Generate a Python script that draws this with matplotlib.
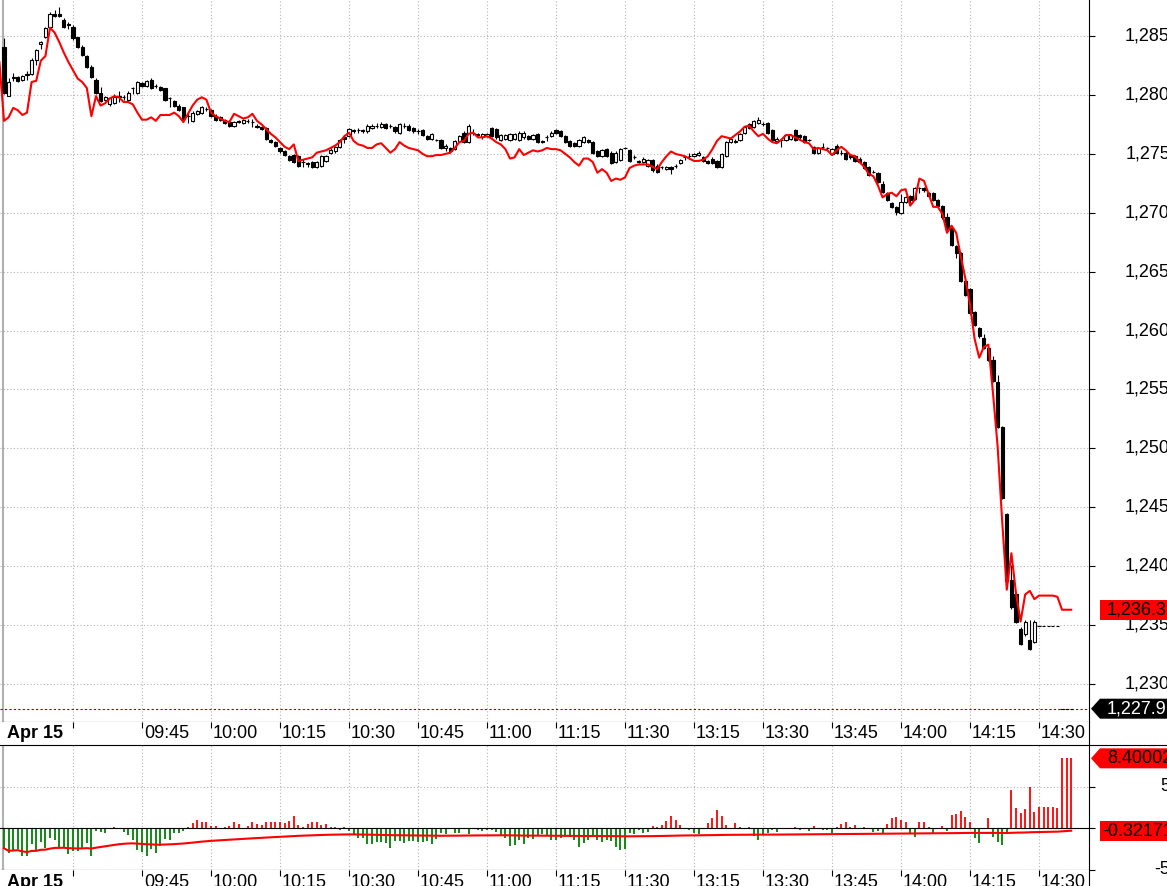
import numpy as np
import matplotlib.pyplot as plt
from matplotlib.lines import Line2D
from matplotlib.patches import Polygon
from matplotlib.transforms import IdentityTransform, blended_transform_factory

plt.rcParams['font.family'] = ['Liberation Sans', 'DejaVu Sans']
plt.rcParams['axes.unicode_minus'] = False

# ====================== data: 1-minute bars, Apr 15 ======================
opens = [
    1284.1, 1279.9, 1281.4, 1281.5, 1281.3, 1281.7, 1281.8, 1283.0, 1284.3, 1284.9,
    1285.8, 1286.9, 1286.9, 1286.4, 1286.0, 1285.8, 1284.9, 1284.1, 1283.3, 1282.4,
    1281.3, 1280.2, 1279.6, 1279.2, 1279.3, 1279.8, 1279.8, 1279.6, 1280.6, 1280.2,
    1281.0, 1280.8, 1281.3, 1280.8, 1280.7, 1280.6, 1279.7, 1279.5, 1279.1, 1279.0,
    1278.2, 1277.8, 1278.4, 1278.5, 1278.8, 1278.7, 1278.2, 1278.1, 1277.9, 1277.7,
    1277.4, 1277.8, 1277.6, 1277.8, 1277.7, 1277.4, 1277.3, 1277.2, 1276.2, 1276.0,
    1275.5, 1275.2, 1274.8, 1274.9, 1274.8, 1274.3, 1274.2, 1274.3, 1273.9, 1274.0,
    1274.4, 1275.1, 1275.2, 1275.6, 1276.4, 1276.5, 1277.0, 1277.0, 1277.0, 1276.9,
    1277.2, 1277.4, 1277.3, 1277.5, 1277.4, 1277.3, 1276.8, 1277.4, 1277.4, 1277.2,
    1276.9, 1277.0, 1276.5, 1276.3, 1276.2, 1276.2, 1275.5, 1275.5, 1275.4, 1276.1,
    1276.8, 1276.0, 1276.8, 1276.7, 1276.4, 1276.5, 1277.2, 1277.1, 1276.2, 1276.3,
    1276.2, 1276.3, 1276.2, 1276.4, 1276.5, 1276.3, 1276.7, 1276.1, 1276.4, 1276.5,
    1277.0, 1276.9, 1276.5, 1276.1, 1275.9, 1275.7, 1276.0, 1276.2, 1276.0, 1275.2,
    1274.8, 1275.4, 1275.1, 1274.3, 1274.5, 1275.5, 1275.3, 1274.7, 1274.4, 1274.3,
    1274.0, 1274.5, 1274.0, 1273.9, 1273.7, 1273.9, 1274.0, 1274.2, 1274.7, 1274.8,
    1274.8, 1274.9, 1274.7, 1274.4, 1274.6, 1274.4, 1273.9, 1274.8, 1276.0, 1276.1,
    1276.2, 1276.8, 1277.5, 1277.3, 1277.6, 1277.5, 1277.6, 1277.0, 1276.1, 1276.2,
    1276.2, 1276.3, 1277.0, 1276.6, 1276.5, 1276.2, 1275.6, 1275.1, 1275.6, 1275.5,
    1275.0, 1275.7, 1275.1, 1275.1, 1274.9, 1274.8, 1274.6, 1274.3, 1273.9, 1273.5,
    1273.4, 1272.4, 1271.7, 1270.8, 1270.5, 1270.0, 1270.9, 1271.4, 1271.2, 1272.1,
    1272.1, 1271.7, 1271.7, 1271.1, 1270.6, 1269.6, 1268.7, 1267.2, 1266.6, 1264.2,
    1263.5, 1261.6, 1260.2, 1259.4, 1258.5, 1257.5, 1255.6, 1251.8, 1244.4, 1238.8,
    1237.6, 1234.7, 1234.2, 1233.7, 1233.6, 1234.9, 1234.9, 1234.9, 1234.9, 1234.9,
    1227.9, 1227.9, 1227.9,
]
highs = [
    1284.8, 1281.4, 1281.9, 1281.6, 1281.7, 1282.0, 1283.1, 1283.9, 1284.6, 1285.8,
    1287.0, 1287.2, 1287.5, 1286.5, 1286.2, 1285.9, 1284.9, 1284.2, 1283.4, 1282.5,
    1281.4, 1280.7, 1279.9, 1279.8, 1280.1, 1280.3, 1280.0, 1280.3, 1280.7, 1281.2,
    1281.1, 1281.3, 1281.4, 1280.9, 1280.8, 1280.6, 1279.8, 1279.6, 1279.2, 1279.0,
    1278.5, 1278.6, 1278.7, 1279.1, 1279.0, 1278.8, 1278.4, 1278.2, 1278.0, 1277.8,
    1277.8, 1277.9, 1278.0, 1278.0, 1278.0, 1277.5, 1277.4, 1277.3, 1276.3, 1276.1,
    1275.6, 1275.3, 1274.9, 1275.0, 1274.9, 1274.6, 1274.3, 1274.4, 1274.4, 1274.9,
    1274.9, 1275.5, 1275.7, 1276.3, 1276.6, 1277.2, 1277.1, 1277.2, 1277.1, 1277.5,
    1277.5, 1277.6, 1277.7, 1277.6, 1277.5, 1277.4, 1277.6, 1277.6, 1277.5, 1277.3,
    1277.1, 1277.1, 1276.6, 1276.8, 1276.3, 1276.3, 1275.8, 1275.6, 1276.2, 1276.6,
    1276.9, 1277.5, 1277.1, 1276.8, 1276.8, 1276.8, 1277.3, 1277.2, 1276.7, 1276.7,
    1276.8, 1276.8, 1276.9, 1276.9, 1276.6, 1276.7, 1276.8, 1276.2, 1276.6, 1276.9,
    1277.1, 1277.0, 1276.6, 1276.2, 1276.0, 1276.3, 1276.5, 1276.3, 1276.1, 1275.3,
    1275.4, 1275.5, 1275.2, 1275.2, 1275.5, 1275.6, 1275.4, 1274.9, 1274.5, 1274.7,
    1274.6, 1274.6, 1274.1, 1274.0, 1274.0, 1274.0, 1274.1, 1274.6, 1274.8, 1275.1,
    1275.1, 1275.2, 1274.8, 1274.5, 1274.7, 1274.5, 1275.1, 1276.1, 1276.4, 1276.3,
    1276.8, 1277.4, 1277.6, 1277.9, 1278.1, 1277.7, 1277.7, 1277.1, 1276.4, 1276.3,
    1276.7, 1276.7, 1277.1, 1276.7, 1276.6, 1276.3, 1275.7, 1275.6, 1275.9, 1275.6,
    1275.5, 1275.8, 1275.3, 1275.2, 1275.0, 1274.9, 1274.7, 1274.4, 1274.0, 1273.6,
    1273.5, 1272.7, 1271.8, 1270.9, 1270.6, 1271.6, 1271.4, 1271.5, 1272.2, 1272.2,
    1272.2, 1271.8, 1271.8, 1271.2, 1270.7, 1270.0, 1268.8, 1267.3, 1266.7, 1264.6,
    1263.6, 1261.7, 1260.3, 1259.7, 1258.6, 1257.8, 1256.2, 1251.9, 1244.5, 1240.1,
    1237.7, 1234.8, 1235.4, 1235.4, 1235.4, 1234.9, 1234.9, 1234.9, 1234.9, 1234.9,
    1227.9, 1227.9, 1227.9,
]
lows = [
    1280.1, 1279.9, 1281.2, 1281.1, 1281.2, 1281.3, 1281.7, 1282.5, 1283.9, 1284.8,
    1285.7, 1286.6, 1286.6, 1285.7, 1285.6, 1284.7, 1284.0, 1283.3, 1282.3, 1281.4,
    1280.1, 1279.4, 1279.5, 1279.1, 1279.2, 1279.4, 1279.6, 1279.5, 1280.1, 1280.1,
    1280.7, 1280.7, 1280.5, 1280.6, 1280.3, 1279.5, 1279.0, 1279.0, 1278.6, 1277.9,
    1277.6, 1277.7, 1278.3, 1278.4, 1278.6, 1278.1, 1277.8, 1277.8, 1277.5, 1277.3,
    1277.3, 1277.6, 1277.5, 1277.6, 1277.3, 1277.2, 1277.0, 1276.2, 1275.9, 1275.6,
    1275.1, 1274.8, 1274.4, 1274.2, 1273.9, 1273.9, 1273.9, 1273.8, 1273.8, 1273.9,
    1274.3, 1275.0, 1275.1, 1275.5, 1275.9, 1276.4, 1276.8, 1276.8, 1276.8, 1276.8,
    1277.1, 1277.2, 1277.2, 1277.1, 1277.2, 1276.8, 1276.7, 1277.2, 1276.9, 1276.8,
    1276.7, 1276.5, 1276.2, 1276.2, 1276.1, 1275.4, 1275.2, 1275.1, 1275.3, 1276.0,
    1275.9, 1275.9, 1276.6, 1276.5, 1276.3, 1276.4, 1276.4, 1276.3, 1276.1, 1276.2,
    1276.1, 1276.2, 1276.1, 1276.3, 1276.2, 1276.2, 1275.9, 1275.9, 1276.1, 1276.4,
    1276.7, 1276.4, 1275.9, 1275.6, 1275.6, 1275.6, 1275.9, 1275.9, 1275.0, 1274.7,
    1274.7, 1274.7, 1274.1, 1274.2, 1274.4, 1275.4, 1274.3, 1274.6, 1274.2, 1274.2,
    1273.9, 1273.5, 1273.4, 1273.7, 1273.6, 1273.3, 1273.8, 1274.1, 1274.5, 1274.6,
    1274.7, 1274.8, 1274.3, 1274.1, 1274.1, 1273.8, 1273.8, 1274.7, 1275.9, 1275.9,
    1276.1, 1276.7, 1277.1, 1277.2, 1277.5, 1277.4, 1276.7, 1276.1, 1276.0, 1275.6,
    1276.1, 1276.2, 1276.1, 1276.3, 1275.9, 1276.1, 1275.0, 1275.0, 1275.5, 1275.3,
    1274.9, 1275.0, 1274.9, 1274.5, 1274.6, 1274.3, 1274.2, 1273.7, 1273.1, 1273.4,
    1272.5, 1271.7, 1271.0, 1270.4, 1269.8, 1269.9, 1270.8, 1270.8, 1271.1, 1271.7,
    1271.8, 1271.3, 1271.0, 1270.5, 1269.5, 1268.5, 1267.2, 1266.2, 1264.1, 1262.9,
    1261.4, 1260.4, 1259.4, 1258.4, 1257.4, 1255.6, 1251.7, 1245.7, 1238.6, 1236.4,
    1235.2, 1233.3, 1234.1, 1232.9, 1233.5, 1234.9, 1234.9, 1234.9, 1234.9, 1234.9,
    1227.9, 1227.9, 1227.9,
]
closes = [
    1280.2, 1281.1, 1281.5, 1281.2, 1281.6, 1281.8, 1283.0, 1283.8, 1284.5, 1285.7,
    1286.9, 1286.7, 1286.7, 1285.8, 1285.9, 1284.8, 1284.1, 1283.4, 1282.4, 1281.5,
    1280.2, 1279.5, 1279.8, 1279.7, 1279.8, 1279.9, 1279.8, 1280.2, 1280.6, 1281.1,
    1280.8, 1281.2, 1280.6, 1280.8, 1280.4, 1279.6, 1279.7, 1279.1, 1278.7, 1278.0,
    1278.2, 1278.5, 1278.6, 1279.0, 1278.8, 1278.2, 1277.9, 1277.9, 1277.6, 1277.4,
    1277.7, 1277.7, 1277.9, 1277.8, 1277.7, 1277.3, 1277.1, 1276.3, 1276.0, 1275.7,
    1275.2, 1274.9, 1274.5, 1274.3, 1274.0, 1274.3, 1274.1, 1273.9, 1274.3, 1274.8,
    1274.8, 1275.3, 1275.6, 1276.2, 1276.3, 1277.1, 1276.9, 1277.0, 1276.9, 1277.4,
    1277.4, 1277.4, 1277.5, 1277.2, 1277.4, 1276.9, 1277.5, 1277.4, 1277.0, 1276.9,
    1276.9, 1276.6, 1276.3, 1276.7, 1276.2, 1275.5, 1275.7, 1275.2, 1276.1, 1276.5,
    1276.0, 1277.4, 1276.8, 1276.6, 1276.7, 1276.7, 1276.5, 1276.4, 1276.6, 1276.6,
    1276.7, 1276.7, 1276.8, 1276.8, 1276.3, 1276.6, 1276.0, 1276.0, 1276.4, 1276.8,
    1276.8, 1276.5, 1276.0, 1275.7, 1275.7, 1276.2, 1276.4, 1276.0, 1275.1, 1274.8,
    1275.3, 1274.8, 1274.2, 1275.1, 1275.4, 1275.5, 1274.4, 1274.7, 1274.3, 1274.6,
    1274.5, 1273.6, 1273.5, 1273.9, 1273.9, 1273.7, 1274.0, 1274.5, 1274.7, 1274.8,
    1275.0, 1275.1, 1274.4, 1274.2, 1274.2, 1273.9, 1275.0, 1276.0, 1276.3, 1276.0,
    1276.7, 1277.3, 1277.2, 1277.8, 1277.9, 1277.5, 1276.8, 1276.2, 1276.3, 1276.2,
    1276.6, 1276.6, 1276.2, 1276.4, 1276.0, 1276.2, 1275.1, 1275.5, 1275.6, 1275.5,
    1275.4, 1275.1, 1275.1, 1274.6, 1274.7, 1274.4, 1274.3, 1273.8, 1273.2, 1273.5,
    1272.6, 1271.8, 1271.1, 1270.5, 1270.1, 1270.9, 1271.3, 1271.1, 1272.1, 1272.1,
    1271.9, 1271.4, 1271.1, 1270.6, 1269.6, 1268.6, 1267.3, 1266.6, 1264.2, 1263.0,
    1261.5, 1260.5, 1259.5, 1258.5, 1257.5, 1255.7, 1251.8, 1245.8, 1238.7, 1236.5,
    1235.3, 1233.4, 1235.3, 1233.0, 1235.3, 1234.9, 1234.9, 1234.9, 1234.9, 1234.9,
    1227.9, 1227.9, 1227.9,
]
# red comparison series, starts one bar before the first candle
spot_start = -1
spot = [
    1282.8,
    1277.8, 1278.1, 1278.9, 1278.7, 1278.3, 1278.5, 1281.1, 1281.2, 1282.9, 1283.3,
    1285.7, 1285.3, 1284.5, 1283.6, 1282.8, 1282.1, 1281.4, 1281.1, 1280.6, 1278.2,
    1279.9, 1279.1, 1279.3, 1279.7, 1279.9, 1279.8, 1279.4, 1279.4, 1279.2, 1278.5,
    1277.9, 1277.9, 1278.1, 1277.8, 1278.3, 1278.3, 1278.3, 1278.5, 1278.2, 1277.7,
    1278.4, 1279.1, 1279.6, 1279.8, 1279.6, 1278.5, 1278.2, 1278.0, 1277.8, 1277.7,
    1278.4, 1278.2, 1278.0, 1278.1, 1278.4, 1277.8, 1277.5, 1277.1, 1276.7, 1276.4,
    1276.0, 1275.6, 1275.4, 1275.8, 1274.4, 1274.5, 1274.6, 1274.7, 1275.1, 1275.2,
    1275.3, 1275.5, 1275.7, 1276.0, 1276.5, 1276.8, 1276.1, 1275.8, 1275.7, 1275.5,
    1275.5, 1275.8, 1275.9, 1275.5, 1275.1, 1275.4, 1276.0, 1275.7, 1275.5, 1275.4,
    1275.3, 1275.0, 1274.8, 1274.8, 1274.9, 1274.9, 1275.0, 1275.1, 1275.5, 1276.0,
    1276.1, 1276.7, 1276.8, 1276.4, 1276.4, 1276.5, 1276.3, 1276.0, 1275.8, 1275.4,
    1274.6, 1274.7, 1275.4, 1274.9, 1275.1, 1275.3, 1275.2, 1275.3, 1275.5, 1275.4,
    1275.4, 1275.3, 1275.0, 1274.7, 1274.3, 1274.0, 1274.6, 1274.6, 1274.3, 1273.4,
    1273.7, 1273.4, 1272.7, 1272.9, 1272.8, 1273.0, 1273.8, 1274.0, 1274.1, 1274.1,
    1274.1, 1273.9, 1273.7, 1274.3, 1274.8, 1275.2, 1275.0, 1274.9, 1274.8, 1274.6,
    1274.4, 1274.4, 1274.5, 1274.8, 1275.4, 1276.1, 1276.5, 1276.4, 1276.3, 1276.6,
    1276.9, 1277.3, 1277.4, 1276.9, 1276.5, 1276.7, 1276.3, 1276.0, 1275.9, 1276.2,
    1276.6, 1276.6, 1276.4, 1276.2, 1276.0, 1275.9, 1275.4, 1275.5, 1275.4, 1275.3,
    1274.9, 1275.3, 1275.6, 1275.3, 1274.9, 1274.8, 1274.3, 1273.9, 1273.3, 1273.1,
    1272.3, 1271.3, 1271.6, 1271.7, 1271.4, 1271.9, 1272.0, 1270.6, 1271.1, 1272.9,
    1272.7, 1271.6, 1270.5, 1270.5, 1269.9, 1268.3, 1268.9, 1268.3, 1266.3, 1264.4,
    1262.2, 1259.3, 1257.7, 1258.6, 1258.8, 1254.7, 1250.2, 1243.8, 1238.0, 1241.1,
    1237.7, 1235.3, 1237.6, 1237.9, 1237.2, 1237.5, 1237.5, 1237.5, 1237.5, 1237.4,
    1236.3, 1236.3, 1236.3,
]

# time axis: bar index of each 15-minute mark
tick_pos = [15, 30, 45, 60, 75, 90, 105, 120, 135, 150, 165, 180, 195, 210, 225]
tick_labels = ['', '09:45', '10:00', '10:15', '10:30', '10:45', '11:00', '11:15',
               '11:30', '13:15', '13:30', '13:45', '14:00', '14:15', '14:30']
day_label = 'Apr 15'
price_ticks = [1230, 1235, 1240, 1245, 1250, 1255, 1260, 1265, 1270, 1275, 1280, 1285]
spread_ticks = [-5, 0, 5]
spread_tick_labels = ['-5', '', '5']   # the zero label sits under the average tag
last_spread = 8.40002
last_avg = -0.32171

# ====================== layout (pixels of a 1167x886 image) ======================
W, H = 1167, 886
PLOT_RIGHT = 1089


def box(top, bottom):
    return [0, 1 - bottom / H, PLOT_RIGHT / W, (bottom - top) / H]


fig = plt.figure(figsize=(W / 100, H / 100), dpi=100)
ax = fig.add_axes(box(0, 722))
band1 = fig.add_axes(box(722, 745), sharex=ax)
ax2 = fig.add_axes(box(745, 870), sharex=ax)
band2 = fig.add_axes(box(870, 895), sharex=ax)

grid_kw = dict(color='#b4b4b4', linestyle=(0, (1, 2)), linewidth=0.8)
n = len(closes)
x = np.arange(n)
o = np.array(opens)
c = np.array(closes)
hi = np.array(highs)
lo = np.array(lows)

# ---------- price panel ----------
ax.vlines(x, lo, hi, color='black', linewidth=0.8, zorder=2)
up = c >= o
bottom = np.minimum(o, c)
height = np.abs(c - o)
ax.bar(x[up], height[up], bottom=bottom[up], width=0.72, facecolor='white',
       edgecolor='black', linewidth=0.8, zorder=3)
ax.bar(x[~up], height[~up], bottom=bottom[~up], width=0.72, facecolor='black',
       edgecolor='black', linewidth=0.8, zorder=3)
spot_x = np.arange(spot_start, spot_start + len(spot))
ax.plot(spot_x, spot, color='red', linewidth=1.5, zorder=4)
ax.axhline(closes[-1], color='#a00000', linestyle=(0, (2, 2)), linewidth=0.8, zorder=1.8)
ax.axvline(-0.22, color='#b0b0b0', linewidth=1.5, zorder=1.6)

ax.set_xlim(-0.87, 235.87)
ax.set_ylim(1226.77, 1288.06)
ax.set_xticks(tick_pos)
ax.set_yticks(price_ticks)
ax.grid(True, **grid_kw)
ax.yaxis.tick_right()
ax.tick_params(axis='y', direction='out', length=4.3, width=0.8, labelright=False)
ax.tick_params(axis='x', length=0, labelbottom=False)
for s in ['left', 'top']:
    ax.spines[s].set_visible(False)
for s in ['right', 'bottom']:
    ax.spines[s].set_linewidth(0.8)

# ---------- spread panel ----------
spread = np.array(spot[1:]) - c
avg = np.cumsum(spread) / np.arange(1, n + 1)
ax2.vlines(x, 0, spread, colors=np.where(spread >= 0, 'red', 'green'), linewidth=1.3, zorder=2)
ax2.axhline(0, color='black', linewidth=0.8, zorder=2.5)
ax2.plot(x, avg, color='red', linewidth=1.5, zorder=3)
ax2.axvline(-0.22, color='#b0b0b0', linewidth=1.5, zorder=1.6)
ax2.set_ylim(-5, 10)
ax2.set_yticks(spread_ticks)
ax2.grid(True, **grid_kw)
ax2.yaxis.tick_right()
ax2.tick_params(axis='y', direction='out', length=4.3, width=0.8, labelright=False)
ax2.tick_params(axis='x', length=0, labelbottom=False)
for s in ['left', 'top']:
    ax2.spines[s].set_visible(False)
for s in ['right', 'bottom']:
    ax2.spines[s].set_linewidth(0.8)

# ---------- time bands ----------
for band in (band1, band2):
    band.set_yticks([])
    for s in ['left', 'top', 'bottom']:
        band.spines[s].set_visible(False)
    band.spines['right'].set_linewidth(0.8)
    band.xaxis.set_ticks_position('top')
    band.tick_params(axis='x', direction='in', length=4, width=0.8,
                     labeltop=False, labelbottom=False)
    tr = blended_transform_factory(band.transData, band.transAxes)
    band.text(0.65, 0.5, day_label, transform=tr, va='center', ha='left',
              fontsize=13, fontweight='bold')
    for p, lab in zip(tick_pos, tick_labels):
        band.text(p + 0.45, 0.5, lab, transform=tr, va='center', ha='left', fontsize=13)

fig.add_artist(Line2D([0, 1], [1 - 745 / H] * 2, transform=fig.transFigure,
                      color='black', linewidth=0.8))

# ---------- right-hand scale labels ----------
lab_x = 1170 / PLOT_RIGHT
tr_main = blended_transform_factory(ax.transAxes, ax.transData)
for v in price_ticks:
    ax.text(lab_x, v, f'{v:,}', transform=tr_main, ha='right', va='center',
            fontsize=13, clip_on=False)
tr_low = blended_transform_factory(ax2.transAxes, ax2.transData)
for v, lab in zip(spread_ticks, spread_tick_labels):
    if lab:
        ax2.text(lab_x, v, lab, transform=tr_low, ha='right', va='center',
                 fontsize=13, clip_on=False)


def value_tag(axis, value, text, face, ink, arrow, text_dx=18):
    y = axis.transData.transform((0, value))[1]
    x0 = axis.transAxes.transform((1, 0))[0]
    h = 10
    if arrow:
        verts = [(x0 + 2, y), (x0 + 11, y + h), (W + 5, y + h), (W + 5, y - h), (x0 + 11, y - h)]
    else:
        verts = [(x0 + 11, y + h), (W + 5, y + h), (W + 5, y - h), (x0 + 11, y - h)]
    fig.add_artist(Polygon(verts, closed=True, transform=IdentityTransform(),
                           facecolor=face, edgecolor='none', zorder=5))
    fig.text((x0 + text_dx) / W, y / H, text, color=ink, fontsize=13,
             va='center', ha='left', zorder=6)


value_tag(ax, spot[-1], f'{spot[-1]:,.1f}', 'red', 'black', False)
value_tag(ax, closes[-1], f'{closes[-1]:,.1f}', 'black', 'white', True)
value_tag(ax2, last_spread, f'{last_spread:.5f}', 'red', 'black', True)
value_tag(ax2, last_avg, f'{last_avg:.5f}', 'red', 'black', False, text_dx=13)

fig.savefig('out.png', dpi=100)
